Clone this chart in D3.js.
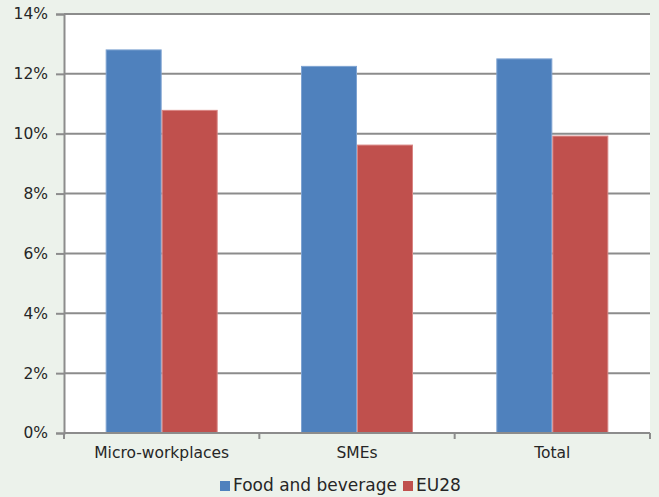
<!DOCTYPE html>
<html>
<head>
<meta charset="utf-8">
<script src="https://cdn.jsdelivr.net/npm/d3@7"></script>
<style>
  html, body { margin: 0; padding: 0; background: #ecf2eb; }
  svg { display: block; }
  text { font-family: "DejaVu Sans", Verdana, sans-serif; fill: #262626; }
</style>
</head>
<body>
<svg id="chart" width="659" height="497"></svg>
<script>
// Share of workplaces, by workplace size
const categories = ["Micro-workplaces", "SMEs", "Total"];
const seriesNames = ["Food and beverage", "EU28"];
const foodAndBeverage = [12.8, 12.25, 12.5];
const eu28 = [10.78, 9.62, 9.92];
const yTicks = [0, 2, 4, 6, 8, 10, 12, 14];
const colors = ["#4f81bd", "#c0504d"];
const strokes = ["#7ea3d2", "#d98583"];

const series = [foodAndBeverage, eu28];
const W = 659, H = 497;
const m = { left: 64, right: 9, top: 14, bottom: 64 };
const svg = d3.select("#chart");

const x0 = d3.scaleBand()
  .domain(categories)
  .range([m.left, W - m.right])
  .paddingInner(0.4266)
  .paddingOuter(0.2133);
const x1 = d3.scaleBand()
  .domain(seriesNames)
  .range([0, x0.bandwidth()]);
const y = d3.scaleLinear()
  .domain([0, 14])
  .range([H - m.bottom, m.top]);

// plot area
svg.append("rect")
  .attr("x", m.left).attr("y", m.top)
  .attr("width", W - m.left - m.right).attr("height", H - m.top - m.bottom)
  .attr("fill", "#ffffff");

// horizontal gridlines
svg.append("g")
  .selectAll("line")
  .data(yTicks.filter(d => d > 0))
  .join("line")
  .attr("x1", m.left).attr("x2", W - m.right)
  .attr("y1", d => y(d)).attr("y2", d => y(d))
  .attr("stroke", "#8c8c8c").attr("stroke-width", 2);

// bars
const groups = svg.append("g")
  .selectAll("g")
  .data(categories)
  .join("g")
  .attr("transform", d => `translate(${x0(d)},0)`);
groups.selectAll("rect")
  .data((c, i) => seriesNames.map((s, j) => ({ s, j, v: series[j][i] })))
  .join("rect")
  .attr("x", d => x1(d.s) + 0.5)
  .attr("width", x1.bandwidth() - 1)
  .attr("y", d => y(d.v))
  .attr("height", d => y(0) - y(d.v))
  .attr("fill", d => colors[d.j])
  .attr("stroke", d => strokes[d.j])
  .attr("stroke-width", 1);

// y axis
const yAxis = d3.axisLeft(y)
  .tickValues(yTicks)
  .tickFormat(d => d + "%")
  .tickSize(8)
  .tickPadding(8);
const gy = svg.append("g")
  .attr("transform", `translate(${m.left},0)`)
  .call(yAxis);
gy.select(".domain").attr("stroke", "#8c8c8c").attr("stroke-width", 2);
gy.selectAll(".tick line").attr("stroke", "#8c8c8c").attr("stroke-width", 2);
gy.selectAll(".tick text")
  .attr("font-size", 15.5)
  .attr("font-family", "DejaVu Sans, Verdana, sans-serif")
  .attr("fill", "#262626");

// x axis with ticks at category boundaries
const xLine = svg.append("g");
xLine.append("line")
  .attr("x1", m.left).attr("x2", W - m.right)
  .attr("y1", y(0)).attr("y2", y(0))
  .attr("stroke", "#8c8c8c").attr("stroke-width", 2);
const bounds = categories.map(c => x0(c) - x0.step() * x0.paddingOuter());
bounds.push(W - m.right);
xLine.selectAll("line.tk")
  .data(bounds)
  .join("line")
  .attr("class", "tk")
  .attr("x1", d => d).attr("x2", d => d)
  .attr("y1", y(0)).attr("y2", y(0) + 6)
  .attr("stroke", "#8c8c8c").attr("stroke-width", 2);
xLine.selectAll("text")
  .data(categories)
  .join("text")
  .attr("x", d => x0(d) + x0.bandwidth() / 2)
  .attr("y", y(0) + 25)
  .attr("text-anchor", "middle")
  .attr("font-size", 15.5)
  .text(d => d);

// legend
const legend = svg.append("g");
const items = [
  { name: seriesNames[0], color: colors[0], x: 220 },
  { name: seriesNames[1], color: colors[1], x: 403 }
];
items.forEach(it => {
  legend.append("rect")
    .attr("x", it.x).attr("y", 481)
    .attr("width", 10).attr("height", 10)
    .attr("fill", it.color);
  legend.append("text")
    .attr("x", it.x + 13).attr("y", 491)
    .attr("font-size", 17)
    .text(it.name);
});
</script>
</body>
</html>
